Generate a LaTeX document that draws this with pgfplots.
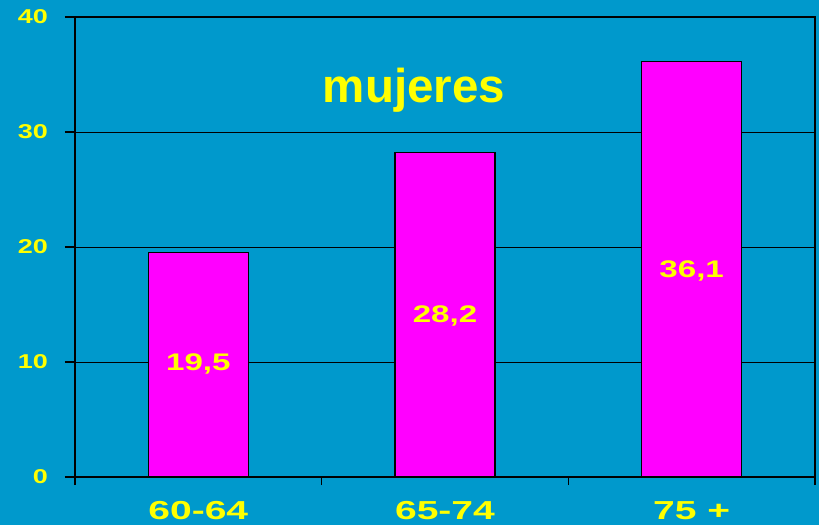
\documentclass[border=0pt]{standalone}
\usepackage{pgfplots}
\pgfplotsset{compat=1.18}
\usepackage{graphicx}
\usepackage{fontspec}
\setmainfont{Liberation Sans}
\definecolor{bg}{RGB}{0,153,204}
\definecolor{yel}{RGB}{255,255,0}
\definecolor{mag}{RGB}{255,0,255}
\begin{document}
\begin{tikzpicture}
\fill[bg] (0pt,0pt) rectangle (819pt,525pt);
\begin{axis}[
  at={(75pt,48pt)}, anchor=south west,
  scale only axis, width=740pt, height=460pt,
  xmin=-0.5, xmax=2.5, ymin=0, ymax=40,
  axis line style={black, line width=1.6pt},
  tick align=outside, tick pos=left,
  xtick={0,1,2},
  xticklabels={\scalebox{1.5}[1]{60-64},\scalebox{1.5}[1]{65-74},\scalebox{1.5}[1]{75 +}},
  major x tick style={draw=none},
  minor xtick={-0.5,0.5,1.5,2.5},
  minor tick length=8pt,
  major tick length=10pt,
  minor x tick style={black, line width=1.2pt},
  major y tick style={black, line width=1.2pt},
  xticklabel style={anchor=north, inner sep=0pt, yshift=-14pt, text=yel,
    font=\bfseries\fontsize{26pt}{28pt}\selectfont},
  ytick={0,10,20,30,40},
  /pgf/number format/assume math mode=true,
  yticklabel={\scalebox{1.35}[1]{\pgfmathprintnumber{\tick}}},
  yticklabel style={anchor=east, inner sep=0pt, xshift=-17pt, text=yel,
    font=\bfseries\fontsize{20pt}{21pt}\selectfont},
  ymajorgrids=true,
  grid style={black, line width=0.9pt},
  clip=false,
]
\addplot[ybar, bar width=100pt, fill=mag, draw=black, line width=1.2pt]
  coordinates {(0,19.5) (1,28.2) (2,36.1)};
\addplot[draw=none, mark=none, nodes near coords, point meta=explicit symbolic,
  every node near coord/.style={anchor=center, text=yel, inner sep=0pt,
    font=\bfseries\fontsize{24pt}{25pt}\selectfont},
  nodes near coords={\scalebox{1.38}[1]{\pgfplotspointmeta}}]
  coordinates {(0,9.8) [19,5] (1,14.0) [28,2] (2,17.9) [36,1]};
\node[text=yel, anchor=base, inner sep=0pt, font=\bfseries\fontsize{47.5pt}{50pt}\selectfont]
  at (axis cs:0.874,32.6) {mujeres};
\end{axis}
\pgfresetboundingbox
\useasboundingbox (0pt,0pt) rectangle (819pt,525pt);
\end{tikzpicture}
\end{document}
